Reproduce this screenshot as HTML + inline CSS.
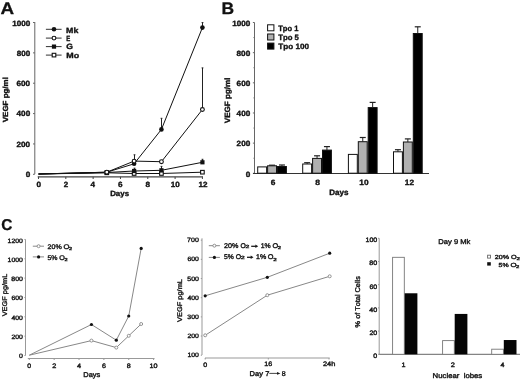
<!DOCTYPE html>
<html><head><meta charset="utf-8"><style>
html,body{margin:0;padding:0;background:#fff;}
svg{display:block;font-family:"Liberation Sans", sans-serif;will-change:transform;}
text{font-kerning:none;white-space:pre;text-rendering:geometricPrecision;}
</style></head><body>
<svg width="520" height="379" viewBox="0 0 520 379">
<rect width="520" height="379" fill="#fff"/>
<text x="0.58" y="14.00" font-size="16.72" font-weight="bold" fill="#111" textLength="13.59" lengthAdjust="spacingAndGlyphs" stroke="#111" stroke-width="0.3" stroke-linejoin="round">A</text>
<line x1="34.80" y1="22.00" x2="34.80" y2="174.00" stroke="#666" stroke-width="1"/>
<line x1="33.00" y1="174.30" x2="34.80" y2="174.30" stroke="#666" stroke-width="1"/>
<text x="25.69" y="177.00" font-size="7.56" font-weight="bold" fill="#111" textLength="4.54" lengthAdjust="spacingAndGlyphs" stroke="#111" stroke-width="0.35" stroke-linejoin="round">0</text>
<line x1="33.00" y1="143.94" x2="34.80" y2="143.94" stroke="#666" stroke-width="1"/>
<text x="16.52" y="147.00" font-size="7.56" font-weight="bold" fill="#111" textLength="13.63" lengthAdjust="spacingAndGlyphs" stroke="#111" stroke-width="0.35" stroke-linejoin="round">200</text>
<line x1="33.00" y1="113.58" x2="34.80" y2="113.58" stroke="#666" stroke-width="1"/>
<text x="16.57" y="116.00" font-size="7.56" font-weight="bold" fill="#111" textLength="13.60" lengthAdjust="spacingAndGlyphs" stroke="#111" stroke-width="0.35" stroke-linejoin="round">400</text>
<line x1="33.00" y1="83.22" x2="34.80" y2="83.22" stroke="#666" stroke-width="1"/>
<text x="16.53" y="86.00" font-size="7.56" font-weight="bold" fill="#111" textLength="13.62" lengthAdjust="spacingAndGlyphs" stroke="#111" stroke-width="0.35" stroke-linejoin="round">600</text>
<line x1="33.00" y1="52.86" x2="34.80" y2="52.86" stroke="#666" stroke-width="1"/>
<text x="16.71" y="56.00" font-size="7.56" font-weight="bold" fill="#111" textLength="13.39" lengthAdjust="spacingAndGlyphs" stroke="#111" stroke-width="0.35" stroke-linejoin="round">800</text>
<line x1="33.00" y1="22.50" x2="34.80" y2="22.50" stroke="#666" stroke-width="1"/>
<text x="12.20" y="26.00" font-size="7.56" font-weight="bold" fill="#111" textLength="18.05" lengthAdjust="spacingAndGlyphs" stroke="#111" stroke-width="0.35" stroke-linejoin="round">1000</text>
<line x1="37.70" y1="176.80" x2="203.00" y2="176.80" stroke="#444" stroke-width="1.2"/>
<line x1="38.50" y1="176.80" x2="38.50" y2="179.00" stroke="#444" stroke-width="1"/>
<text x="36.55" y="187.00" font-size="7.56" font-weight="bold" fill="#111" textLength="4.55" lengthAdjust="spacingAndGlyphs" stroke="#111" stroke-width="0.35" stroke-linejoin="round">0</text>
<line x1="65.82" y1="176.80" x2="65.82" y2="179.00" stroke="#444" stroke-width="1"/>
<text x="63.69" y="187.00" font-size="7.56" font-weight="bold" fill="#111" textLength="4.46" lengthAdjust="spacingAndGlyphs" stroke="#111" stroke-width="0.35" stroke-linejoin="round">2</text>
<line x1="93.14" y1="176.80" x2="93.14" y2="179.00" stroke="#444" stroke-width="1"/>
<text x="90.60" y="187.00" font-size="7.56" font-weight="bold" fill="#111" textLength="4.51" lengthAdjust="spacingAndGlyphs" stroke="#111" stroke-width="0.35" stroke-linejoin="round">4</text>
<line x1="120.46" y1="176.80" x2="120.46" y2="179.00" stroke="#444" stroke-width="1"/>
<text x="117.90" y="187.00" font-size="7.56" font-weight="bold" fill="#111" textLength="4.56" lengthAdjust="spacingAndGlyphs" stroke="#111" stroke-width="0.35" stroke-linejoin="round">6</text>
<line x1="147.78" y1="176.80" x2="147.78" y2="179.00" stroke="#444" stroke-width="1"/>
<text x="145.63" y="187.00" font-size="7.56" font-weight="bold" fill="#111" textLength="4.57" lengthAdjust="spacingAndGlyphs" stroke="#111" stroke-width="0.35" stroke-linejoin="round">8</text>
<line x1="175.10" y1="176.80" x2="175.10" y2="179.00" stroke="#444" stroke-width="1"/>
<text x="170.86" y="187.00" font-size="7.56" font-weight="bold" fill="#111" textLength="8.97" lengthAdjust="spacingAndGlyphs" stroke="#111" stroke-width="0.35" stroke-linejoin="round">10</text>
<line x1="202.42" y1="176.80" x2="202.42" y2="179.00" stroke="#444" stroke-width="1"/>
<text x="198.45" y="187.00" font-size="7.56" font-weight="bold" fill="#111" textLength="8.99" lengthAdjust="spacingAndGlyphs" stroke="#111" stroke-width="0.35" stroke-linejoin="round">12</text>
<text x="110.17" y="196.00" font-size="7.56" font-weight="bold" fill="#111" textLength="18.88" lengthAdjust="spacingAndGlyphs" stroke="#111" stroke-width="0.35" stroke-linejoin="round">Days</text>
<text transform="translate(7.77,122.24) rotate(-90)" x="0" y="0" font-size="7.41" font-weight="bold" fill="#111" textLength="45.12" lengthAdjust="spacingAndGlyphs" stroke="#111" stroke-width="0.35" stroke-linejoin="round">VEGF pg/ml</text>
<line x1="45.90" y1="29.30" x2="61.60" y2="29.30" stroke="#333" stroke-width="1"/>
<circle cx="54.00" cy="29.30" r="2.3" fill="#111"/>
<text x="66.12" y="33.00" font-size="7.56" font-weight="bold" fill="#111" textLength="12.23" lengthAdjust="spacingAndGlyphs" stroke="#111" stroke-width="0.35" stroke-linejoin="round">Mk</text>
<line x1="45.90" y1="38.10" x2="61.60" y2="38.10" stroke="#333" stroke-width="1"/>
<circle cx="54.00" cy="38.10" r="1.9" fill="#fff" stroke="#111" stroke-width="1.1"/>
<text x="66.15" y="41.00" font-size="7.56" font-weight="bold" fill="#111" textLength="4.03" lengthAdjust="spacingAndGlyphs" stroke="#111" stroke-width="0.35" stroke-linejoin="round">E</text>
<line x1="45.90" y1="46.60" x2="61.60" y2="46.60" stroke="#333" stroke-width="1"/>
<rect x="51.90" y="44.50" width="4.20" height="4.20" fill="#111"/>
<text x="66.29" y="49.00" font-size="7.56" font-weight="bold" fill="#111" textLength="6.67" lengthAdjust="spacingAndGlyphs" stroke="#111" stroke-width="0.35" stroke-linejoin="round">G</text>
<line x1="45.90" y1="55.10" x2="61.60" y2="55.10" stroke="#333" stroke-width="1"/>
<rect x="52.20" y="53.30" width="3.60" height="3.60" fill="#fff" stroke="#111" stroke-width="1.1"/>
<text x="66.24" y="58.00" font-size="7.56" font-weight="bold" fill="#111" textLength="12.87" lengthAdjust="spacingAndGlyphs" stroke="#111" stroke-width="0.35" stroke-linejoin="round">Mo</text>
<line x1="161.50" y1="129.40" x2="161.50" y2="118.30" stroke="#222" stroke-width="1"/>
<line x1="160.60" y1="118.30" x2="162.40" y2="118.30" stroke="#222" stroke-width="1"/>
<line x1="202.50" y1="27.60" x2="202.50" y2="22.60" stroke="#222" stroke-width="1"/>
<line x1="201.60" y1="22.60" x2="203.40" y2="22.60" stroke="#222" stroke-width="1"/>
<line x1="134.50" y1="161.10" x2="134.50" y2="154.80" stroke="#222" stroke-width="1"/>
<line x1="133.60" y1="154.80" x2="135.40" y2="154.80" stroke="#222" stroke-width="1"/>
<line x1="202.50" y1="109.50" x2="202.50" y2="67.90" stroke="#222" stroke-width="1"/>
<line x1="201.60" y1="67.90" x2="203.40" y2="67.90" stroke="#222" stroke-width="1"/>
<line x1="134.50" y1="171.00" x2="134.50" y2="168.20" stroke="#222" stroke-width="1"/>
<line x1="133.60" y1="168.20" x2="135.40" y2="168.20" stroke="#222" stroke-width="1"/>
<line x1="161.50" y1="170.30" x2="161.50" y2="166.40" stroke="#222" stroke-width="1"/>
<line x1="160.60" y1="166.40" x2="162.40" y2="166.40" stroke="#222" stroke-width="1"/>
<line x1="202.50" y1="162.30" x2="202.50" y2="159.30" stroke="#222" stroke-width="1"/>
<line x1="201.60" y1="159.30" x2="203.40" y2="159.30" stroke="#222" stroke-width="1"/>
<polyline points="38.50,174.00 106.80,172.80 134.12,173.50 161.44,173.50 202.42,172.20" fill="none" stroke="#111" stroke-width="1" stroke-linejoin="round"/>
<polyline points="38.50,174.00 106.80,172.50 134.12,171.00 161.44,170.30 202.42,162.30" fill="none" stroke="#111" stroke-width="1" stroke-linejoin="round"/>
<polyline points="38.50,174.00 106.80,172.20 134.12,161.10 161.44,161.70 202.42,109.50" fill="none" stroke="#111" stroke-width="1" stroke-linejoin="round"/>
<polyline points="38.50,174.00 106.80,172.20 134.12,163.80 161.44,129.40 202.42,27.60" fill="none" stroke="#111" stroke-width="1" stroke-linejoin="round"/>
<rect x="105.00" y="171.00" width="3.60" height="3.60" fill="#fff" stroke="#111" stroke-width="1.1"/>
<rect x="132.32" y="171.70" width="3.60" height="3.60" fill="#fff" stroke="#111" stroke-width="1.1"/>
<rect x="159.64" y="171.70" width="3.60" height="3.60" fill="#fff" stroke="#111" stroke-width="1.1"/>
<rect x="200.62" y="170.40" width="3.60" height="3.60" fill="#fff" stroke="#111" stroke-width="1.1"/>
<rect x="104.70" y="170.40" width="4.20" height="4.20" fill="#111"/>
<rect x="132.02" y="168.90" width="4.20" height="4.20" fill="#111"/>
<rect x="159.34" y="168.20" width="4.20" height="4.20" fill="#111"/>
<rect x="200.32" y="160.20" width="4.20" height="4.20" fill="#111"/>
<circle cx="106.80" cy="172.20" r="2.3" fill="#111"/>
<circle cx="134.12" cy="163.80" r="2.3" fill="#111"/>
<circle cx="161.44" cy="129.40" r="2.3" fill="#111"/>
<circle cx="202.42" cy="27.60" r="2.3" fill="#111"/>
<circle cx="106.80" cy="172.20" r="1.9" fill="#fff" stroke="#111" stroke-width="1.1"/>
<circle cx="134.12" cy="161.10" r="1.9" fill="#fff" stroke="#111" stroke-width="1.1"/>
<circle cx="161.44" cy="161.70" r="1.9" fill="#fff" stroke="#111" stroke-width="1.1"/>
<circle cx="202.42" cy="109.50" r="1.9" fill="#fff" stroke="#111" stroke-width="1.1"/>
<text x="221.40" y="14.00" font-size="16.72" font-weight="bold" fill="#111" textLength="12.57" lengthAdjust="spacingAndGlyphs" stroke="#111" stroke-width="0.3" stroke-linejoin="round">B</text>
<line x1="254.50" y1="22.50" x2="254.50" y2="173.30" stroke="#666" stroke-width="1"/>
<line x1="252.90" y1="173.30" x2="254.50" y2="173.30" stroke="#666" stroke-width="1"/>
<line x1="253.50" y1="158.22" x2="254.50" y2="158.22" stroke="#666" stroke-width="1"/>
<line x1="252.90" y1="143.14" x2="254.50" y2="143.14" stroke="#666" stroke-width="1"/>
<line x1="253.50" y1="128.06" x2="254.50" y2="128.06" stroke="#666" stroke-width="1"/>
<line x1="252.90" y1="112.98" x2="254.50" y2="112.98" stroke="#666" stroke-width="1"/>
<line x1="253.50" y1="97.90" x2="254.50" y2="97.90" stroke="#666" stroke-width="1"/>
<line x1="252.90" y1="82.82" x2="254.50" y2="82.82" stroke="#666" stroke-width="1"/>
<line x1="253.50" y1="67.74" x2="254.50" y2="67.74" stroke="#666" stroke-width="1"/>
<line x1="252.90" y1="52.66" x2="254.50" y2="52.66" stroke="#666" stroke-width="1"/>
<line x1="253.50" y1="37.58" x2="254.50" y2="37.58" stroke="#666" stroke-width="1"/>
<line x1="252.90" y1="22.50" x2="254.50" y2="22.50" stroke="#666" stroke-width="1"/>
<text x="245.68" y="177.00" font-size="7.56" font-weight="bold" fill="#111" textLength="4.55" lengthAdjust="spacingAndGlyphs" stroke="#111" stroke-width="0.35" stroke-linejoin="round">0</text>
<text x="236.64" y="146.00" font-size="7.56" font-weight="bold" fill="#111" textLength="13.63" lengthAdjust="spacingAndGlyphs" stroke="#111" stroke-width="0.35" stroke-linejoin="round">200</text>
<text x="236.64" y="116.00" font-size="7.56" font-weight="bold" fill="#111" textLength="13.59" lengthAdjust="spacingAndGlyphs" stroke="#111" stroke-width="0.35" stroke-linejoin="round">400</text>
<text x="236.63" y="86.00" font-size="7.56" font-weight="bold" fill="#111" textLength="13.63" lengthAdjust="spacingAndGlyphs" stroke="#111" stroke-width="0.35" stroke-linejoin="round">600</text>
<text x="236.55" y="56.00" font-size="7.56" font-weight="bold" fill="#111" textLength="13.69" lengthAdjust="spacingAndGlyphs" stroke="#111" stroke-width="0.35" stroke-linejoin="round">800</text>
<text x="232.20" y="26.00" font-size="7.56" font-weight="bold" fill="#111" textLength="18.02" lengthAdjust="spacingAndGlyphs" stroke="#111" stroke-width="0.35" stroke-linejoin="round">1000</text>
<line x1="253.00" y1="173.50" x2="429.00" y2="173.50" stroke="#333" stroke-width="1"/>
<text transform="translate(229.95,123.17) rotate(-90)" x="0" y="0" font-size="7.70" font-weight="bold" fill="#111" textLength="45.67" lengthAdjust="spacingAndGlyphs" stroke="#111" stroke-width="0.35" stroke-linejoin="round">VEGF pg/ml</text>
<rect x="257.70" y="166.90" width="8.90" height="6.30" fill="#fff" stroke="#111" stroke-width="1"/>
<rect x="267.60" y="165.80" width="8.90" height="7.40" fill="#b0b0b0" stroke="#111" stroke-width="1"/>
<line x1="272.05" y1="165.80" x2="272.05" y2="165.20" stroke="#222" stroke-width="1"/>
<line x1="269.05" y1="165.20" x2="275.05" y2="165.20" stroke="#222" stroke-width="1.2"/>
<rect x="277.50" y="166.50" width="8.90" height="6.70" fill="#000" stroke="#111" stroke-width="1"/>
<line x1="281.95" y1="166.50" x2="281.95" y2="165.00" stroke="#222" stroke-width="1"/>
<line x1="278.95" y1="165.00" x2="284.95" y2="165.00" stroke="#222" stroke-width="1.2"/>
<rect x="302.70" y="164.00" width="8.90" height="9.20" fill="#fff" stroke="#111" stroke-width="1"/>
<line x1="307.15" y1="164.00" x2="307.15" y2="162.70" stroke="#222" stroke-width="1"/>
<line x1="304.15" y1="162.70" x2="310.15" y2="162.70" stroke="#222" stroke-width="1.2"/>
<rect x="312.60" y="158.40" width="8.90" height="14.80" fill="#b0b0b0" stroke="#111" stroke-width="1"/>
<line x1="317.05" y1="158.40" x2="317.05" y2="155.80" stroke="#222" stroke-width="1"/>
<line x1="314.05" y1="155.80" x2="320.05" y2="155.80" stroke="#222" stroke-width="1.2"/>
<rect x="322.50" y="150.10" width="8.90" height="23.10" fill="#000" stroke="#111" stroke-width="1"/>
<line x1="326.95" y1="150.10" x2="326.95" y2="146.60" stroke="#222" stroke-width="1"/>
<line x1="323.95" y1="146.60" x2="329.95" y2="146.60" stroke="#222" stroke-width="1.2"/>
<rect x="348.40" y="154.40" width="8.90" height="18.80" fill="#fff" stroke="#111" stroke-width="1"/>
<rect x="358.30" y="141.70" width="8.90" height="31.50" fill="#b0b0b0" stroke="#111" stroke-width="1"/>
<line x1="362.75" y1="141.70" x2="362.75" y2="137.50" stroke="#222" stroke-width="1"/>
<line x1="359.75" y1="137.50" x2="365.75" y2="137.50" stroke="#222" stroke-width="1.2"/>
<rect x="368.20" y="107.60" width="8.90" height="65.60" fill="#000" stroke="#111" stroke-width="1"/>
<line x1="372.65" y1="107.60" x2="372.65" y2="102.40" stroke="#222" stroke-width="1"/>
<line x1="369.65" y1="102.40" x2="375.65" y2="102.40" stroke="#222" stroke-width="1.2"/>
<rect x="393.50" y="151.80" width="8.90" height="21.40" fill="#fff" stroke="#111" stroke-width="1"/>
<line x1="397.95" y1="151.80" x2="397.95" y2="149.70" stroke="#222" stroke-width="1"/>
<line x1="394.95" y1="149.70" x2="400.95" y2="149.70" stroke="#222" stroke-width="1.2"/>
<rect x="403.40" y="142.00" width="8.90" height="31.20" fill="#b0b0b0" stroke="#111" stroke-width="1"/>
<line x1="407.85" y1="142.00" x2="407.85" y2="138.90" stroke="#222" stroke-width="1"/>
<line x1="404.85" y1="138.90" x2="410.85" y2="138.90" stroke="#222" stroke-width="1.2"/>
<rect x="413.30" y="33.50" width="8.90" height="139.70" fill="#000" stroke="#111" stroke-width="1"/>
<line x1="417.75" y1="33.50" x2="417.75" y2="26.80" stroke="#222" stroke-width="1"/>
<line x1="414.75" y1="26.80" x2="420.75" y2="26.80" stroke="#222" stroke-width="1.2"/>
<text x="270.67" y="185.00" font-size="7.70" font-weight="bold" fill="#111" textLength="4.65" lengthAdjust="spacingAndGlyphs" stroke="#111" stroke-width="0.35" stroke-linejoin="round">6</text>
<text x="315.15" y="185.00" font-size="7.70" font-weight="bold" fill="#111" textLength="4.74" lengthAdjust="spacingAndGlyphs" stroke="#111" stroke-width="0.35" stroke-linejoin="round">8</text>
<text x="359.39" y="185.00" font-size="7.70" font-weight="bold" fill="#111" textLength="9.25" lengthAdjust="spacingAndGlyphs" stroke="#111" stroke-width="0.35" stroke-linejoin="round">10</text>
<text x="404.88" y="185.00" font-size="7.70" font-weight="bold" fill="#111" textLength="9.20" lengthAdjust="spacingAndGlyphs" stroke="#111" stroke-width="0.35" stroke-linejoin="round">12</text>
<text x="329.20" y="195.00" font-size="7.85" font-weight="bold" fill="#111" textLength="19.31" lengthAdjust="spacingAndGlyphs" stroke="#111" stroke-width="0.35" stroke-linejoin="round">Days</text>
<rect x="267.60" y="24.80" width="6.30" height="6.00" fill="#fff" stroke="#111" stroke-width="1"/>
<text x="278.26" y="31.00" font-size="7.70" font-weight="bold" fill="#111" textLength="20.12" lengthAdjust="spacingAndGlyphs" stroke="#111" stroke-width="0.35" stroke-linejoin="round">Tpo 1</text>
<rect x="267.60" y="34.00" width="6.30" height="6.00" fill="#b0b0b0" stroke="#111" stroke-width="1"/>
<text x="278.28" y="40.00" font-size="7.70" font-weight="bold" fill="#111" textLength="20.65" lengthAdjust="spacingAndGlyphs" stroke="#111" stroke-width="0.35" stroke-linejoin="round">Tpo 5</text>
<rect x="267.60" y="43.10" width="6.30" height="6.00" fill="#000" stroke="#111" stroke-width="1"/>
<text x="278.27" y="49.00" font-size="7.70" font-weight="bold" fill="#111" textLength="30.76" lengthAdjust="spacingAndGlyphs" stroke="#111" stroke-width="0.35" stroke-linejoin="round">Tpo 100</text>
<text x="1.16" y="230.00" font-size="15.70" font-weight="bold" fill="#111" textLength="11.15" lengthAdjust="spacingAndGlyphs" stroke="#111" stroke-width="0.3" stroke-linejoin="round">C</text>
<line x1="25.50" y1="239.40" x2="25.50" y2="355.50" stroke="#999" stroke-width="1"/>
<line x1="24.40" y1="355.50" x2="25.50" y2="355.50" stroke="#999" stroke-width="1"/>
<text x="18.98" y="358.00" font-size="6.25" fill="#1a1a1a" textLength="3.87" lengthAdjust="spacingAndGlyphs" stroke="#1a1a1a" stroke-width="0.4" stroke-linejoin="round">0</text>
<line x1="24.40" y1="336.16" x2="25.50" y2="336.16" stroke="#999" stroke-width="1"/>
<text x="11.43" y="339.00" font-size="6.25" fill="#1a1a1a" textLength="11.48" lengthAdjust="spacingAndGlyphs" stroke="#1a1a1a" stroke-width="0.4" stroke-linejoin="round">200</text>
<line x1="24.40" y1="316.82" x2="25.50" y2="316.82" stroke="#999" stroke-width="1"/>
<text x="11.43" y="320.00" font-size="6.25" fill="#1a1a1a" textLength="11.45" lengthAdjust="spacingAndGlyphs" stroke="#1a1a1a" stroke-width="0.4" stroke-linejoin="round">400</text>
<line x1="24.40" y1="297.48" x2="25.50" y2="297.48" stroke="#999" stroke-width="1"/>
<text x="11.48" y="300.00" font-size="6.25" fill="#1a1a1a" textLength="11.45" lengthAdjust="spacingAndGlyphs" stroke="#1a1a1a" stroke-width="0.4" stroke-linejoin="round">600</text>
<line x1="24.40" y1="278.14" x2="25.50" y2="278.14" stroke="#999" stroke-width="1"/>
<text x="11.34" y="281.00" font-size="6.25" fill="#1a1a1a" textLength="11.65" lengthAdjust="spacingAndGlyphs" stroke="#1a1a1a" stroke-width="0.4" stroke-linejoin="round">800</text>
<line x1="24.40" y1="258.80" x2="25.50" y2="258.80" stroke="#999" stroke-width="1"/>
<text x="7.63" y="262.00" font-size="6.25" fill="#1a1a1a" textLength="15.31" lengthAdjust="spacingAndGlyphs" stroke="#1a1a1a" stroke-width="0.4" stroke-linejoin="round">1000</text>
<line x1="24.40" y1="239.46" x2="25.50" y2="239.46" stroke="#999" stroke-width="1"/>
<text x="7.63" y="243.00" font-size="6.25" fill="#1a1a1a" textLength="15.31" lengthAdjust="spacingAndGlyphs" stroke="#1a1a1a" stroke-width="0.4" stroke-linejoin="round">1200</text>
<line x1="27.80" y1="358.50" x2="154.50" y2="358.50" stroke="#999" stroke-width="1"/>
<line x1="29.30" y1="358.50" x2="29.30" y2="360.00" stroke="#999" stroke-width="1"/>
<text x="27.38" y="368.00" font-size="6.40" fill="#1a1a1a" textLength="3.84" lengthAdjust="spacingAndGlyphs" stroke="#1a1a1a" stroke-width="0.4" stroke-linejoin="round">0</text>
<line x1="54.16" y1="358.50" x2="54.16" y2="360.00" stroke="#999" stroke-width="1"/>
<text x="52.28" y="368.00" font-size="6.40" fill="#1a1a1a" textLength="4.07" lengthAdjust="spacingAndGlyphs" stroke="#1a1a1a" stroke-width="0.4" stroke-linejoin="round">2</text>
<line x1="79.02" y1="358.50" x2="79.02" y2="360.00" stroke="#999" stroke-width="1"/>
<text x="76.99" y="368.00" font-size="6.40" fill="#1a1a1a" textLength="4.08" lengthAdjust="spacingAndGlyphs" stroke="#1a1a1a" stroke-width="0.4" stroke-linejoin="round">4</text>
<line x1="103.88" y1="358.50" x2="103.88" y2="360.00" stroke="#999" stroke-width="1"/>
<text x="101.93" y="368.00" font-size="6.40" fill="#1a1a1a" textLength="3.93" lengthAdjust="spacingAndGlyphs" stroke="#1a1a1a" stroke-width="0.4" stroke-linejoin="round">6</text>
<line x1="128.74" y1="358.50" x2="128.74" y2="360.00" stroke="#999" stroke-width="1"/>
<text x="126.79" y="368.00" font-size="6.40" fill="#1a1a1a" textLength="3.99" lengthAdjust="spacingAndGlyphs" stroke="#1a1a1a" stroke-width="0.4" stroke-linejoin="round">8</text>
<line x1="153.60" y1="358.50" x2="153.60" y2="360.00" stroke="#999" stroke-width="1"/>
<text x="149.49" y="368.00" font-size="6.40" fill="#1a1a1a" textLength="8.08" lengthAdjust="spacingAndGlyphs" stroke="#1a1a1a" stroke-width="0.4" stroke-linejoin="round">10</text>
<text x="83.35" y="377.00" font-size="6.98" fill="#1a1a1a" textLength="16.92" lengthAdjust="spacingAndGlyphs" stroke="#1a1a1a" stroke-width="0.4" stroke-linejoin="round">Days</text>
<text transform="translate(6.51,316.37) rotate(-90)" x="0" y="0" font-size="6.69" fill="#1a1a1a" textLength="42.70" lengthAdjust="spacingAndGlyphs" stroke="#1a1a1a" stroke-width="0.4" stroke-linejoin="round">VEGF pg/mL</text>
<line x1="32.80" y1="246.20" x2="44.00" y2="246.20" stroke="#888" stroke-width="1"/>
<circle cx="38.60" cy="246.20" r="1.5" fill="#fff" stroke="#888" stroke-width="0.9"/>
<line x1="32.80" y1="256.90" x2="44.00" y2="256.90" stroke="#888" stroke-width="1"/>
<circle cx="38.60" cy="256.90" r="1.6" fill="#111"/>
<text x="47.55" y="249.00" font-size="6.69" fill="#1a1a1a" textLength="14.14" lengthAdjust="spacingAndGlyphs" stroke="#1a1a1a" stroke-width="0.4" stroke-linejoin="round">20%</text>
<text x="63.46" y="249.00" font-size="6.69" fill="#1a1a1a" textLength="5.94" lengthAdjust="spacingAndGlyphs" stroke="#1a1a1a" stroke-width="0.4" stroke-linejoin="round">O</text>
<text x="68.96" y="250.00" font-size="4.22" fill="#1a1a1a" textLength="3.08" lengthAdjust="spacingAndGlyphs" stroke="#1a1a1a" stroke-width="0.4" stroke-linejoin="round">2</text>
<text x="47.48" y="260.00" font-size="6.69" fill="#1a1a1a" textLength="10.05" lengthAdjust="spacingAndGlyphs" stroke="#1a1a1a" stroke-width="0.4" stroke-linejoin="round">5%</text>
<text x="59.39" y="260.00" font-size="6.69" fill="#1a1a1a" textLength="5.60" lengthAdjust="spacingAndGlyphs" stroke="#1a1a1a" stroke-width="0.4" stroke-linejoin="round">O</text>
<text x="64.60" y="261.00" font-size="4.22" fill="#1a1a1a" textLength="3.14" lengthAdjust="spacingAndGlyphs" stroke="#1a1a1a" stroke-width="0.4" stroke-linejoin="round">2</text>
<polyline points="29.30,355.20 91.45,340.60 116.31,347.60 128.74,335.80 141.17,324.00" fill="none" stroke="#888" stroke-width="1" stroke-linejoin="round"/>
<polyline points="29.30,355.20 91.45,324.50 116.31,340.20 128.74,316.00 141.17,248.40" fill="none" stroke="#888" stroke-width="1" stroke-linejoin="round"/>
<circle cx="91.45" cy="340.60" r="1.5" fill="#fff" stroke="#888" stroke-width="0.9"/>
<circle cx="116.31" cy="347.60" r="1.5" fill="#fff" stroke="#888" stroke-width="0.9"/>
<circle cx="128.74" cy="335.80" r="1.5" fill="#fff" stroke="#888" stroke-width="0.9"/>
<circle cx="141.17" cy="324.00" r="1.5" fill="#fff" stroke="#888" stroke-width="0.9"/>
<circle cx="91.45" cy="324.50" r="1.6" fill="#111"/>
<circle cx="116.31" cy="340.20" r="1.6" fill="#111"/>
<circle cx="128.74" cy="316.00" r="1.6" fill="#111"/>
<circle cx="141.17" cy="248.40" r="1.6" fill="#111"/>
<line x1="202.00" y1="238.30" x2="202.00" y2="355.00" stroke="#999" stroke-width="1"/>
<line x1="200.80" y1="355.20" x2="202.00" y2="355.20" stroke="#999" stroke-width="1"/>
<text x="187.45" y="357.00" font-size="6.25" fill="#1a1a1a" textLength="11.51" lengthAdjust="spacingAndGlyphs" stroke="#1a1a1a" stroke-width="0.4" stroke-linejoin="round">100</text>
<line x1="200.80" y1="336.03" x2="202.00" y2="336.03" stroke="#999" stroke-width="1"/>
<text x="187.43" y="338.00" font-size="6.25" fill="#1a1a1a" textLength="11.48" lengthAdjust="spacingAndGlyphs" stroke="#1a1a1a" stroke-width="0.4" stroke-linejoin="round">200</text>
<line x1="200.80" y1="316.86" x2="202.00" y2="316.86" stroke="#999" stroke-width="1"/>
<text x="187.30" y="319.00" font-size="6.25" fill="#1a1a1a" textLength="11.55" lengthAdjust="spacingAndGlyphs" stroke="#1a1a1a" stroke-width="0.4" stroke-linejoin="round">300</text>
<line x1="200.80" y1="297.69" x2="202.00" y2="297.69" stroke="#999" stroke-width="1"/>
<text x="187.43" y="300.00" font-size="6.25" fill="#1a1a1a" textLength="11.45" lengthAdjust="spacingAndGlyphs" stroke="#1a1a1a" stroke-width="0.4" stroke-linejoin="round">400</text>
<line x1="200.80" y1="278.52" x2="202.00" y2="278.52" stroke="#999" stroke-width="1"/>
<text x="187.26" y="281.00" font-size="6.25" fill="#1a1a1a" textLength="11.69" lengthAdjust="spacingAndGlyphs" stroke="#1a1a1a" stroke-width="0.4" stroke-linejoin="round">500</text>
<line x1="200.80" y1="259.35" x2="202.00" y2="259.35" stroke="#999" stroke-width="1"/>
<text x="187.48" y="261.00" font-size="6.25" fill="#1a1a1a" textLength="11.45" lengthAdjust="spacingAndGlyphs" stroke="#1a1a1a" stroke-width="0.4" stroke-linejoin="round">600</text>
<line x1="200.80" y1="240.18" x2="202.00" y2="240.18" stroke="#999" stroke-width="1"/>
<text x="187.09" y="242.00" font-size="6.25" fill="#1a1a1a" textLength="11.71" lengthAdjust="spacingAndGlyphs" stroke="#1a1a1a" stroke-width="0.4" stroke-linejoin="round">700</text>
<line x1="205.00" y1="358.00" x2="329.70" y2="358.00" stroke="#999" stroke-width="1"/>
<line x1="205.20" y1="358.00" x2="205.20" y2="359.50" stroke="#999" stroke-width="1"/>
<line x1="268.30" y1="358.00" x2="268.30" y2="359.50" stroke="#999" stroke-width="1"/>
<line x1="329.00" y1="358.00" x2="329.00" y2="359.50" stroke="#999" stroke-width="1"/>
<text x="203.27" y="367.00" font-size="6.40" fill="#1a1a1a" textLength="3.94" lengthAdjust="spacingAndGlyphs" stroke="#1a1a1a" stroke-width="0.4" stroke-linejoin="round">0</text>
<text x="264.28" y="366.00" font-size="6.40" fill="#1a1a1a" textLength="7.91" lengthAdjust="spacingAndGlyphs" stroke="#1a1a1a" stroke-width="0.4" stroke-linejoin="round">16</text>
<text x="322.99" y="366.00" font-size="6.40" fill="#1a1a1a" textLength="12.33" lengthAdjust="spacingAndGlyphs" stroke="#1a1a1a" stroke-width="0.4" stroke-linejoin="round">24h</text>
<text x="249.64" y="376.00" font-size="6.98" fill="#1a1a1a" textLength="19.73" lengthAdjust="spacingAndGlyphs" stroke="#1a1a1a" stroke-width="0.4" stroke-linejoin="round">Day 7</text>
<path d="M269.3,373.4 H278.5" stroke="#1a1a1a" stroke-width="0.8"/><path d="M277.0,372.0 L280.4,373.4 L277.0,374.8 Z" fill="#1a1a1a"/>
<text x="281.79" y="376.00" font-size="6.98" fill="#1a1a1a" textLength="3.90" lengthAdjust="spacingAndGlyphs" stroke="#1a1a1a" stroke-width="0.4" stroke-linejoin="round">8</text>
<text transform="translate(181.99,321.88) rotate(-90)" x="0" y="0" font-size="6.69" fill="#1a1a1a" textLength="42.81" lengthAdjust="spacingAndGlyphs" stroke="#1a1a1a" stroke-width="0.4" stroke-linejoin="round">VEGF pg/mL</text>
<line x1="208.80" y1="245.70" x2="219.90" y2="245.70" stroke="#888" stroke-width="1"/>
<circle cx="214.40" cy="245.70" r="1.5" fill="#fff" stroke="#888" stroke-width="0.9"/>
<line x1="208.80" y1="257.40" x2="219.90" y2="257.40" stroke="#888" stroke-width="1"/>
<circle cx="214.40" cy="257.40" r="1.6" fill="#111"/>
<text x="224.04" y="248.00" font-size="6.83" fill="#1a1a1a" textLength="14.38" lengthAdjust="spacingAndGlyphs" stroke="#1a1a1a" stroke-width="0.4" stroke-linejoin="round">20%</text>
<text x="240.64" y="248.00" font-size="6.83" fill="#1a1a1a" textLength="5.33" lengthAdjust="spacingAndGlyphs" stroke="#1a1a1a" stroke-width="0.4" stroke-linejoin="round">O</text>
<text x="245.48" y="248.00" font-size="4.51" fill="#1a1a1a" textLength="3.77" lengthAdjust="spacingAndGlyphs" stroke="#1a1a1a" stroke-width="0.4" stroke-linejoin="round">2</text>
<path d="M251.2,246.3 H256.2" stroke="#1a1a1a" stroke-width="1.3"/><path d="M255.39999999999998,244.60000000000002 L258.2,246.3 L255.39999999999998,248.0 Z" fill="#1a1a1a"/>
<text x="260.67" y="248.00" font-size="6.83" fill="#1a1a1a" textLength="9.95" lengthAdjust="spacingAndGlyphs" stroke="#1a1a1a" stroke-width="0.4" stroke-linejoin="round">1%</text>
<text x="272.47" y="248.00" font-size="6.83" fill="#1a1a1a" textLength="5.71" lengthAdjust="spacingAndGlyphs" stroke="#1a1a1a" stroke-width="0.4" stroke-linejoin="round">O</text>
<text x="277.81" y="249.00" font-size="4.22" fill="#1a1a1a" textLength="3.26" lengthAdjust="spacingAndGlyphs" stroke="#1a1a1a" stroke-width="0.4" stroke-linejoin="round">2</text>
<text x="223.94" y="259.00" font-size="6.83" fill="#1a1a1a" textLength="9.74" lengthAdjust="spacingAndGlyphs" stroke="#1a1a1a" stroke-width="0.4" stroke-linejoin="round">5%</text>
<text x="235.85" y="259.00" font-size="6.83" fill="#1a1a1a" textLength="5.37" lengthAdjust="spacingAndGlyphs" stroke="#1a1a1a" stroke-width="0.4" stroke-linejoin="round">O</text>
<text x="240.86" y="259.00" font-size="4.51" fill="#1a1a1a" textLength="3.95" lengthAdjust="spacingAndGlyphs" stroke="#1a1a1a" stroke-width="0.4" stroke-linejoin="round">2</text>
<path d="M247.0,257.3 H251.5" stroke="#1a1a1a" stroke-width="1.3"/><path d="M250.7,255.60000000000002 L253.5,257.3 L250.7,259.0 Z" fill="#1a1a1a"/>
<text x="255.99" y="259.00" font-size="6.83" fill="#1a1a1a" textLength="10.20" lengthAdjust="spacingAndGlyphs" stroke="#1a1a1a" stroke-width="0.4" stroke-linejoin="round">1%</text>
<text x="267.72" y="259.00" font-size="6.83" fill="#1a1a1a" textLength="5.70" lengthAdjust="spacingAndGlyphs" stroke="#1a1a1a" stroke-width="0.4" stroke-linejoin="round">O</text>
<text x="273.26" y="261.00" font-size="4.22" fill="#1a1a1a" textLength="3.51" lengthAdjust="spacingAndGlyphs" stroke="#1a1a1a" stroke-width="0.4" stroke-linejoin="round">2</text>
<polyline points="205.20,335.30 267.30,295.20 329.70,276.30" fill="none" stroke="#888" stroke-width="1" stroke-linejoin="round"/>
<polyline points="205.20,295.80 267.30,277.30 329.70,253.20" fill="none" stroke="#888" stroke-width="1" stroke-linejoin="round"/>
<circle cx="205.20" cy="335.30" r="1.5" fill="#fff" stroke="#888" stroke-width="0.9"/>
<circle cx="267.30" cy="295.20" r="1.5" fill="#fff" stroke="#888" stroke-width="0.9"/>
<circle cx="329.70" cy="276.30" r="1.5" fill="#fff" stroke="#888" stroke-width="0.9"/>
<circle cx="205.20" cy="295.80" r="1.6" fill="#111"/>
<circle cx="267.30" cy="277.30" r="1.6" fill="#111"/>
<circle cx="329.70" cy="253.20" r="1.6" fill="#111"/>
<line x1="379.20" y1="238.30" x2="379.20" y2="354.30" stroke="#999" stroke-width="1"/>
<line x1="378.00" y1="354.30" x2="379.20" y2="354.30" stroke="#999" stroke-width="1"/>
<text x="373.39" y="358.00" font-size="6.40" fill="#1a1a1a" textLength="3.94" lengthAdjust="spacingAndGlyphs" stroke="#1a1a1a" stroke-width="0.4" stroke-linejoin="round">0</text>
<line x1="378.00" y1="331.10" x2="379.20" y2="331.10" stroke="#999" stroke-width="1"/>
<text x="369.43" y="335.00" font-size="6.40" fill="#1a1a1a" textLength="7.85" lengthAdjust="spacingAndGlyphs" stroke="#1a1a1a" stroke-width="0.4" stroke-linejoin="round">20</text>
<line x1="378.00" y1="307.90" x2="379.20" y2="307.90" stroke="#999" stroke-width="1"/>
<text x="369.33" y="312.00" font-size="6.40" fill="#1a1a1a" textLength="7.98" lengthAdjust="spacingAndGlyphs" stroke="#1a1a1a" stroke-width="0.4" stroke-linejoin="round">40</text>
<line x1="378.00" y1="284.70" x2="379.20" y2="284.70" stroke="#999" stroke-width="1"/>
<text x="369.45" y="289.00" font-size="6.40" fill="#1a1a1a" textLength="7.78" lengthAdjust="spacingAndGlyphs" stroke="#1a1a1a" stroke-width="0.4" stroke-linejoin="round">60</text>
<line x1="378.00" y1="261.50" x2="379.20" y2="261.50" stroke="#999" stroke-width="1"/>
<text x="369.34" y="265.00" font-size="6.40" fill="#1a1a1a" textLength="7.93" lengthAdjust="spacingAndGlyphs" stroke="#1a1a1a" stroke-width="0.4" stroke-linejoin="round">80</text>
<line x1="378.00" y1="238.30" x2="379.20" y2="238.30" stroke="#999" stroke-width="1"/>
<text x="365.47" y="242.00" font-size="6.40" fill="#1a1a1a" textLength="11.81" lengthAdjust="spacingAndGlyphs" stroke="#1a1a1a" stroke-width="0.4" stroke-linejoin="round">100</text>
<line x1="379.20" y1="354.30" x2="520.00" y2="354.30" stroke="#666" stroke-width="1"/>
<rect x="392.60" y="257.32" width="11.70" height="96.98" fill="#fff" stroke="#777" stroke-width="0.9"/>
<rect x="404.70" y="293.28" width="12.70" height="61.02" fill="#050505"/>
<rect x="442.60" y="340.61" width="11.70" height="13.69" fill="#fff" stroke="#777" stroke-width="0.9"/>
<rect x="454.70" y="313.93" width="12.70" height="40.37" fill="#050505"/>
<rect x="491.70" y="349.20" width="11.70" height="5.10" fill="#fff" stroke="#777" stroke-width="0.9"/>
<rect x="503.80" y="340.03" width="12.70" height="14.27" fill="#050505"/>
<text x="401.54" y="367.00" font-size="6.40" fill="#1a1a1a" textLength="4.05" lengthAdjust="spacingAndGlyphs" stroke="#1a1a1a" stroke-width="0.4" stroke-linejoin="round">1</text>
<text x="450.71" y="367.00" font-size="6.40" fill="#1a1a1a" textLength="4.16" lengthAdjust="spacingAndGlyphs" stroke="#1a1a1a" stroke-width="0.4" stroke-linejoin="round">2</text>
<text x="500.56" y="367.00" font-size="6.40" fill="#1a1a1a" textLength="3.93" lengthAdjust="spacingAndGlyphs" stroke="#1a1a1a" stroke-width="0.4" stroke-linejoin="round">4</text>
<text x="432.62" y="378.00" font-size="6.98" fill="#1a1a1a" textLength="49.62" lengthAdjust="spacingAndGlyphs" stroke="#1a1a1a" stroke-width="0.4" stroke-linejoin="round">Nuclear  lobes</text>
<text transform="translate(360.01,327.40) rotate(-90)" x="0" y="0" font-size="6.98" fill="#1a1a1a" textLength="51.20" lengthAdjust="spacingAndGlyphs" stroke="#1a1a1a" stroke-width="0.4" stroke-linejoin="round">% of Total Cells</text>
<text x="438.33" y="244.00" font-size="6.98" fill="#1a1a1a" textLength="32.07" lengthAdjust="spacingAndGlyphs" stroke="#1a1a1a" stroke-width="0.4" stroke-linejoin="round">Day 9 Mk</text>
<rect x="487.60" y="255.20" width="2.90" height="2.90" fill="#fff" stroke="#666" stroke-width="0.9"/>
<rect x="487.20" y="262.20" width="3.60" height="3.40" fill="#111"/>
<text x="494.87" y="259.00" font-size="5.81" fill="#1a1a1a" textLength="14.24" lengthAdjust="spacingAndGlyphs" stroke="#1a1a1a" stroke-width="0.4" stroke-linejoin="round">20%</text>
<text x="511.06" y="259.00" font-size="5.96" fill="#1a1a1a" textLength="5.66" lengthAdjust="spacingAndGlyphs" stroke="#1a1a1a" stroke-width="0.4" stroke-linejoin="round">O</text>
<text x="516.47" y="260.00" font-size="4.07" fill="#1a1a1a" textLength="3.42" lengthAdjust="spacingAndGlyphs" stroke="#1a1a1a" stroke-width="0.4" stroke-linejoin="round">2</text>
<text x="498.60" y="267.00" font-size="5.81" fill="#1a1a1a" textLength="10.08" lengthAdjust="spacingAndGlyphs" stroke="#1a1a1a" stroke-width="0.4" stroke-linejoin="round">5%</text>
<text x="510.57" y="267.00" font-size="5.96" fill="#1a1a1a" textLength="6.08" lengthAdjust="spacingAndGlyphs" stroke="#1a1a1a" stroke-width="0.4" stroke-linejoin="round">O</text>
<text x="516.14" y="268.00" font-size="4.07" fill="#1a1a1a" textLength="3.27" lengthAdjust="spacingAndGlyphs" stroke="#1a1a1a" stroke-width="0.4" stroke-linejoin="round">2</text>
</svg>
</body></html>
